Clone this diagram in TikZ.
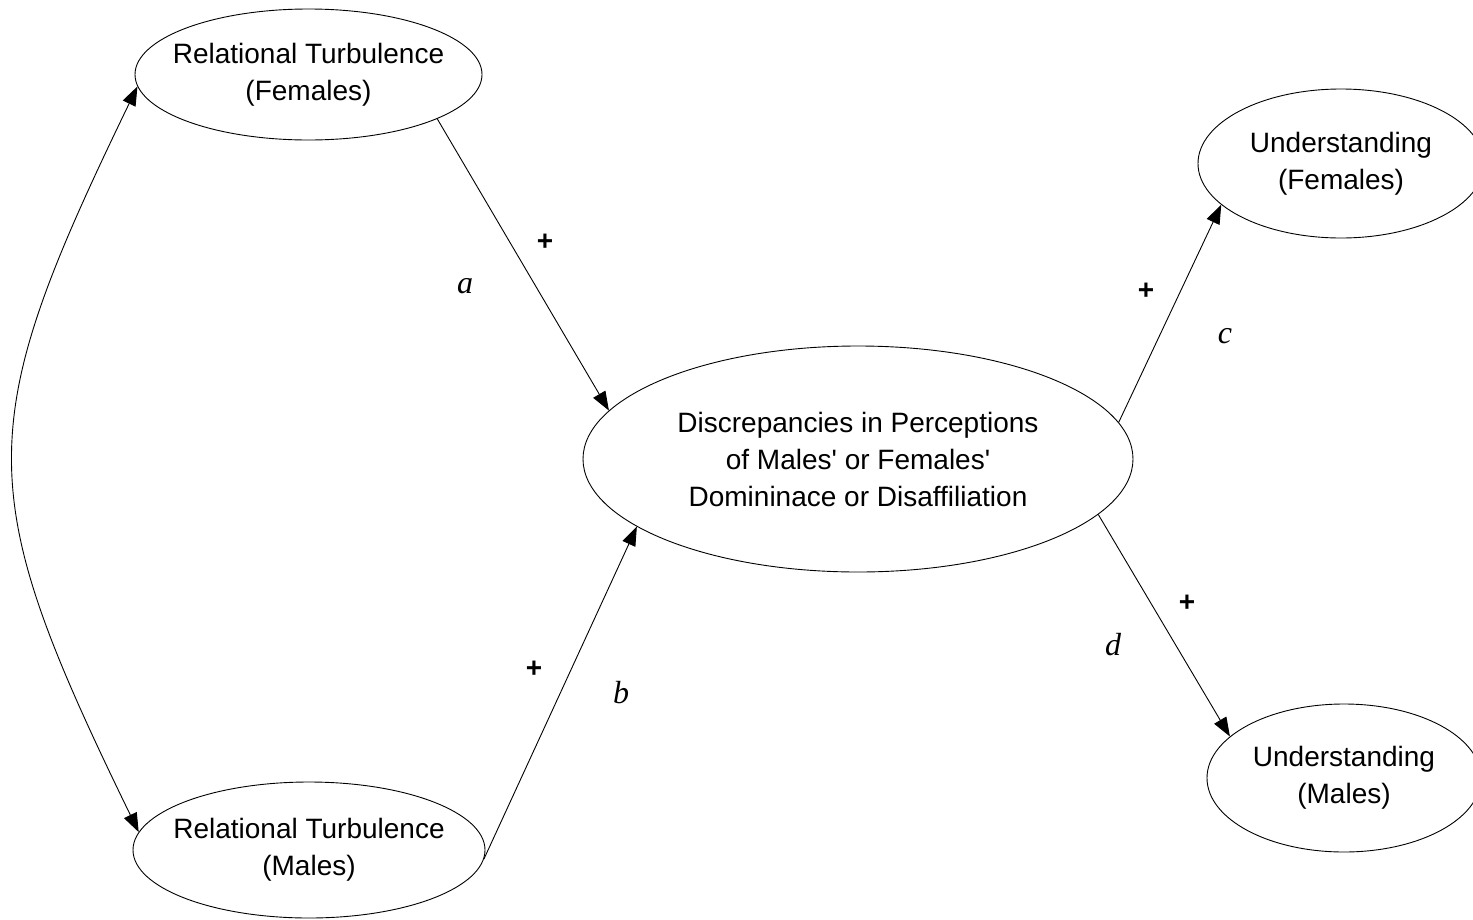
\documentclass[tikz,border=0pt]{standalone}
\usepackage{fontspec}
\setmainfont{Liberation Sans}
\newfontfamily\labelserif{Liberation Serif}
\usetikzlibrary{shapes.geometric,arrows.meta}
\begin{document}
\begin{tikzpicture}[x=1pt,y=-1pt,
  construct/.style={draw,ellipse,line width=0.9pt,inner xsep=-30pt,inner ysep=0pt,
    align=center,font=\fontsize{28}{37}\selectfont},
  path/.style={line width=0.9pt,-{Triangle[length=19pt,width=14pt]}},
  sign/.style={font=\bfseries\fontsize{28}{34}\selectfont},
  coef/.style={font=\labelserif\itshape\fontsize{32}{38}\selectfont}]
\useasboundingbox (0,0) rectangle (1473,919);
\clip (0,0) rectangle (1473,919);
\fill[white] (0,0) rectangle (1473,919);

% constructs
\node[construct,minimum width=347pt,minimum height=131pt] (rtf) at (308.5,74.5)
  {Relational Turbulence\\(Females)};
\node[construct,minimum width=352pt,minimum height=136pt] (rtm) at (309,850)
  {Relational Turbulence\\(Males)};
\node[construct,minimum width=550pt,minimum height=226pt] (disc) at (858,459)
  {Discrepancies in Perceptions\\of Males\textquotesingle{} or Females\textquotesingle\\Domininace or Disaffiliation};
\node[construct,minimum width=286pt,minimum height=149pt] (uf) at (1341,163.5)
  {Understanding\\(Females)};
\node[construct,minimum width=274pt,minimum height=148pt] (um) at (1344,778)
  {Understanding\\(Males)};

% covariance between the two turbulence constructs
\draw[line width=0.9pt,{Triangle[length=19pt,width=14pt]}-{Triangle[length=19pt,width=14pt]}]
  (rtf.184) .. controls (-28,428) and (-28,490) .. (rtm.174);

% structural paths
\draw[path] (rtf.341) -- (disc.169);
\draw[path] (rtm.357) -- (disc.197);
\draw[path] (disc.8) -- (uf.199);
\draw[path] (disc.347.5) -- (um.160.5);

% path signs and labels
\node[sign] (sa) at (545,242) {+};
\node[coef] (la) at (465,286) {a};
\node[sign] (sb) at (534,669) {+};
\node[coef] (lb) at (621,693) {b};
\node[sign] (sc) at (1146,291) {+};
\node[coef] (lc) at (1225,336) {c};
\node[sign] (sd) at (1187,603) {+};
\node[coef] (ld) at (1113,645) {d};
\end{tikzpicture}
\end{document}
